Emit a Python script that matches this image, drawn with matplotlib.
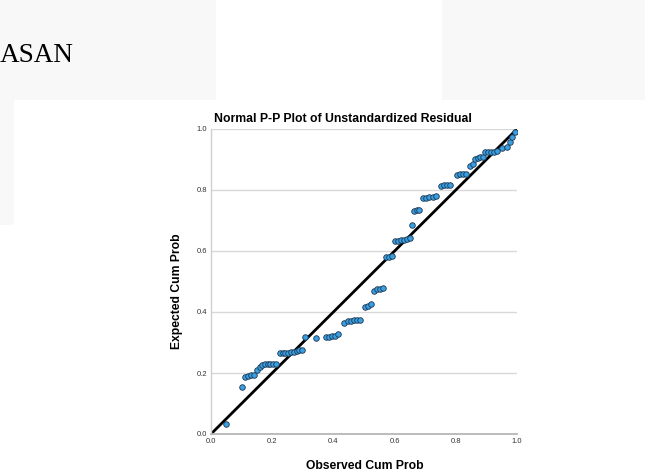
import matplotlib
matplotlib.use("Agg")
import matplotlib.pyplot as plt
from matplotlib.patches import Rectangle

# Data (observed vs expected cumulative probability)
observed = [0.048, 0.102, 0.111, 0.121, 0.131, 0.141, 0.151, 0.160, 0.168, 0.177,
            0.186, 0.194, 0.203, 0.213, 0.225, 0.234, 0.243, 0.253, 0.261, 0.270,
            0.280, 0.289, 0.297, 0.307, 0.342, 0.375, 0.384, 0.394, 0.405, 0.416,
            0.436, 0.447, 0.457, 0.466, 0.477, 0.488, 0.503, 0.514, 0.523, 0.533,
            0.542, 0.552, 0.562, 0.572, 0.581, 0.590, 0.602, 0.612, 0.622, 0.632,
            0.641, 0.650, 0.656, 0.663, 0.672, 0.681, 0.692, 0.703, 0.714, 0.725,
            0.736, 0.750, 0.760, 0.771, 0.781, 0.804, 0.813, 0.823, 0.833, 0.847,
            0.856, 0.864, 0.872, 0.880, 0.888, 0.897, 0.906, 0.915, 0.925, 0.934,
            0.950, 0.966, 0.977, 0.983, 0.993]
expected = [0.032, 0.155, 0.188, 0.191, 0.192, 0.192, 0.210, 0.220, 0.225, 0.228,
            0.229, 0.230, 0.230, 0.231, 0.265, 0.266, 0.266, 0.267, 0.268, 0.269,
            0.272, 0.275, 0.277, 0.317, 0.314, 0.317, 0.318, 0.320, 0.322, 0.327,
            0.365, 0.370, 0.372, 0.373, 0.374, 0.375, 0.415, 0.421, 0.425, 0.470,
            0.474, 0.476, 0.479, 0.580, 0.581, 0.583, 0.633, 0.634, 0.635, 0.636,
            0.638, 0.641, 0.684, 0.731, 0.734, 0.736, 0.773, 0.775, 0.776, 0.777,
            0.779, 0.813, 0.815, 0.816, 0.818, 0.849, 0.851, 0.852, 0.854, 0.880,
            0.886, 0.903, 0.906, 0.907, 0.909, 0.924, 0.925, 0.926, 0.926, 0.928,
            0.939, 0.942, 0.958, 0.975, 0.991]
ref_line = [0.0, 1.0]
ticks = [0.0, 0.2, 0.4, 0.6, 0.8, 1.0]
tick_labels = ["0.0", "0.2", "0.4", "0.6", "0.8", "1.0"]

W, H = 645, 476
fig = plt.figure(figsize=(W / 100, H / 100), dpi=100)
fig.patch.set_facecolor("white")

def px_rect(x0, y0, x1, y1, color):
    fig.patches.append(Rectangle((x0 / W, 1 - y1 / H), (x1 - x0) / W, (y1 - y0) / H,
                                 transform=fig.transFigure, facecolor=color,
                                 edgecolor="none", zorder=0))

bg = "#f8f8f8"
px_rect(0, 0, 216, 100, bg)
px_rect(442, 0, 645, 100, bg)
px_rect(0, 100, 14, 225, bg)

fig.text(0 / W, 1 - 56 / H, "ASAN", fontsize=19.5, family="Liberation Serif",
         color="black", ha="left", va="center")

ax = fig.add_axes([211 / W, 1 - 434 / H, 306 / W, 305 / H])
ax.set_xlim(0, 1)
ax.set_ylim(0, 1)
ax.set_facecolor("white")
for y in ticks[1:]:
    ax.axhline(y, color="#d8d8d8", lw=1.0, zorder=1)
ax.plot(ref_line, ref_line, color="black", lw=2.0, zorder=2, solid_capstyle="butt")
ax.scatter(observed, expected, s=16, facecolor="#3a9fe0", edgecolor="#1a3550",
           linewidth=0.6, zorder=3)

for s in ["top", "right"]:
    ax.spines[s].set_visible(False)
ax.spines["left"].set_color("#d0d0d0")
ax.spines["bottom"].set_color("#b0b0b0")
ax.spines["left"].set_linewidth(1.0)
ax.spines["bottom"].set_linewidth(1.2)
ax.set_xticks(ticks)
ax.set_yticks(ticks)
ax.set_xticklabels(tick_labels)
ax.set_yticklabels(tick_labels)
ax.tick_params(length=0, labelsize=5.5, labelcolor="#333333", pad=3,
               labelfontfamily="Liberation Sans")

fig.text(214 / W, 1 - 119 / H, "Normal P-P Plot of Unstandardized Residual",
         fontsize=8.8, fontweight="bold", family="Liberation Sans",
         ha="left", va="center")
fig.text(365 / W, 1 - 466 / H, "Observed Cum Prob", fontsize=8.7, fontweight="bold",
         family="Liberation Sans", ha="center", va="center")
fig.text(177 / W, 1 - 291 / H, "Expected Cum Prob", fontsize=8.7, fontweight="bold",
         family="Liberation Sans", ha="center", va="center", rotation=90)

fig.savefig("out.png", dpi=100, facecolor="white")
